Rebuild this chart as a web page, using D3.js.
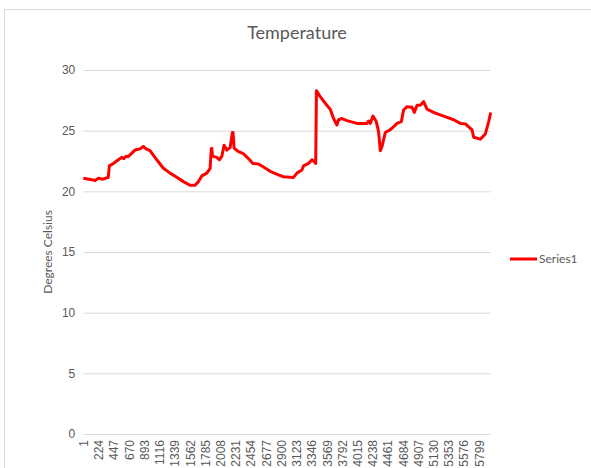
<!DOCTYPE html>
<html>
<head>
<meta charset="utf-8">
<script src="https://cdn.jsdelivr.net/npm/d3@7"></script>
<style>
  body { margin: 0; background: #fff; }
  svg { display: block; font-family: Lato, "Open Sans", sans-serif; }
</style>
</head>
<body>
<svg width="591" height="468"></svg>
<script>
// number of samples (categories) on the x axis
const sampleCount = 5970;

// readings picked off the curve: sample number and temperature
const sampleIndex = [1, 147, 172, 220, 289, 367, 382, 440, 514, 563, 597, 627, 656, 685, 758, 832, 880, 920, 978,
  1077, 1174, 1272, 1370, 1467, 1565, 1639, 1687, 1737, 1810, 1859, 1876, 1884, 1893, 1957, 1995, 2031, 2064,
  2104, 2152, 2186, 2195, 2211, 2274, 2347, 2421, 2485, 2567, 2641, 2739, 2861, 2934, 3081, 3131, 3204, 3228,
  3301, 3351, 3384, 3406, 3417, 3472, 3546, 3619, 3668, 3717, 3741, 3791, 3864, 4011, 4157, 4181, 4206, 4245,
  4294, 4328, 4353, 4378, 4426, 4475, 4524, 4598, 4661, 4694, 4744, 4817, 4851, 4891, 4939, 4988, 5037, 5134,
  5232, 5331, 5428, 5526, 5599, 5697, 5721, 5819, 5892, 5941, 5970];
const temperature = [21.08, 20.94, 20.88, 21.08, 21.0, 21.16, 22.1, 22.3, 22.6, 22.8, 22.7, 22.9, 22.85, 23.0, 23.4, 23.5, 23.7, 23.5, 23.35,
  22.6, 21.9, 21.5, 21.16, 20.8, 20.5, 20.5, 20.8, 21.27, 21.5, 21.9, 23.5, 23.55, 22.9, 22.8, 22.6, 22.9, 23.8,
  23.4, 23.6, 24.85, 24.85, 23.55, 23.27, 23.1, 22.7, 22.3, 22.26, 22.0, 21.65, 21.35, 21.2, 21.15, 21.5, 21.76, 22.1,
  22.3, 22.6, 22.45, 22.3, 28.3, 27.8, 27.26, 26.77, 26.0, 25.47, 25.9, 26.0, 25.83, 25.6, 25.6, 25.8, 25.6, 26.2,
  25.75, 24.9, 23.35, 23.7, 24.85, 25.0, 25.2, 25.6, 25.75, 26.7, 26.98, 26.93, 26.5, 27.1, 27.1, 27.4, 26.77, 26.5,
  26.3, 26.1, 25.9, 25.6, 25.56, 25.06, 24.46, 24.3, 24.73, 25.75, 26.5];

const yTicks = [0, 5, 10, 15, 20, 25, 30];
const xTicks = [1, 224, 447, 670, 893, 1116, 1339, 1562, 1785, 2008, 2231, 2454, 2677, 2900, 3123, 3346,
  3569, 3792, 4015, 4238, 4461, 4684, 4907, 5130, 5353, 5576, 5799];

const data = sampleIndex.map((d, i) => ({ idx: d, temp: temperature[i] }));

const svg = d3.select("svg");
const plotLeft = 83.3, plotRight = 490.7, plotTop = 70, plotBottom = 434;
const grey = "#595959";

// outer chart border
svg.append("rect")
  .attr("x", 4.5).attr("y", 9.5)
  .attr("width", 620).attr("height", 500)
  .attr("fill", "none").attr("stroke", "#d9d9d9");

const x = d3.scaleLinear().domain([0.5, sampleCount + 0.5]).range([plotLeft, plotRight]);
const y = d3.scaleLinear().domain([0, 30]).range([plotBottom, plotTop]);

// y axis + gridlines
const yAxis = svg.append("g")
  .attr("transform", "translate(" + plotLeft + ",0)")
  .call(d3.axisLeft(y).tickValues(yTicks).tickSize(-(plotRight - plotLeft)).tickPadding(8));
yAxis.select(".domain").remove();
yAxis.selectAll("line").attr("stroke", "#d9d9d9");
yAxis.selectAll("text").attr("fill", grey).style("font-size", "12px");

// x axis, labels rotated
const xAxis = svg.append("g")
  .attr("transform", "translate(0," + plotBottom + ")")
  .call(d3.axisBottom(x).tickValues(xTicks).tickSize(0).tickFormat(d3.format("d")));
xAxis.select(".domain").remove();
xAxis.selectAll("text")
  .attr("fill", grey)
  .style("font-size", "12px")
  .attr("text-anchor", "end")
  .attr("transform", "rotate(-90)")
  .attr("x", -6)
  .attr("y", 0)
  .attr("dy", "0.35em")
  .attr("dx", 0);

// title
svg.append("text")
  .attr("x", 297).attr("y", 39)
  .attr("text-anchor", "middle")
  .attr("fill", grey)
  .style("font-size", "18px")
  .text("Temperature");

// y axis title
svg.append("text")
  .attr("transform", "translate(52," + ((plotTop + plotBottom) / 2) + ")rotate(-90)")
  .attr("text-anchor", "middle")
  .attr("fill", grey)
  .style("font-size", "12px")
  .text("Degrees Celsius");

// the line
const line = d3.line()
  .x(d => x(d.idx))
  .y(d => y(d.temp));

svg.append("path")
  .datum(data)
  .attr("d", line)
  .attr("fill", "none")
  .attr("stroke", "#ff0000")
  .attr("stroke-width", 3)
  .attr("stroke-linejoin", "round");

// legend
svg.append("line")
  .attr("x1", 510).attr("x2", 537)
  .attr("y1", 259).attr("y2", 259)
  .attr("stroke", "#ff0000").attr("stroke-width", 3);
svg.append("text")
  .attr("x", 539).attr("y", 263)
  .attr("fill", grey)
  .style("font-size", "12px")
  .text("Series1");
</script>
</body>
</html>
